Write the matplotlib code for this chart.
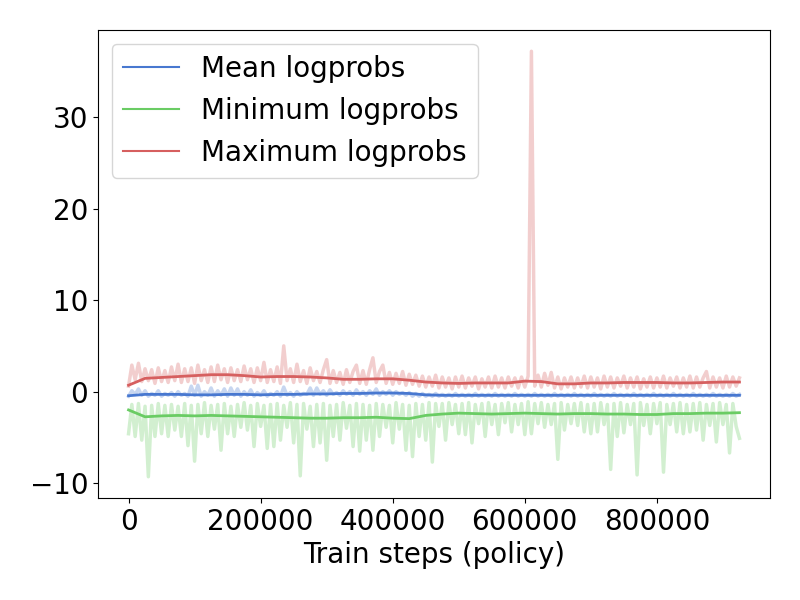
import numpy as np
import matplotlib
matplotlib.use('Agg')
from matplotlib import pyplot as plt
from matplotlib.lines import Line2D

# colours (seaborn "muted")
c_mean = '#4878d0'
c_min = '#6acc64'
c_max = '#d65f5f'

# raw logged values, one every 5000 train steps
raw_steps = np.arange(0, 930000, 5000)

max_raw = [0.6, 2.9, 1.3, 3.1, 1.1, 2.5, 1.2, 2.4, 0.9, 2.6,
           1.1, 2.3, 1.0, 2.7, 1.2, 3.0, 1.0, 2.5, 1.1, 2.6,
           0.9, 2.9, 1.2, 2.4, 1.0, 2.7, 1.1, 2.9, 1.3, 2.5,
           1.0, 2.6, 1.2, 2.4, 1.1, 2.8, 1.3, 2.5, 1.0, 2.6,
           1.2, 3.2, 1.0, 2.4, 1.1, 2.7, 0.9, 5.0, 1.2, 2.5,
           1.0, 3.0, 1.1, 2.3, 0.9, 2.6, 1.2, 2.2, 1.0, 2.4,
           3.5, 0.9, 2.3, 1.0, 2.1, 0.8, 2.4, 1.0, 2.2, 2.9,
           0.9, 2.3, 0.8, 2.4, 3.7, 1.0, 2.2, 2.9, 0.9, 2.1,
           0.8, 2.0, 0.9, 2.2, 0.7, 1.9, 0.8, 1.8, 0.6, 1.7,
           0.5, 1.6, 0.6, 1.8, 0.4, 1.6, 0.5, 1.5, 0.3, 1.6,
           0.5, 1.7, 0.4, 1.5, 0.6, 1.6, 0.3, 1.4, 0.5, 1.6,
           0.4, 1.7, 0.5, 1.5, 0.4, 1.6, 0.6, 1.5, 0.4, 1.6,
           0.5, 1.7, 37.2, 0.6, 1.8, 0.5, 2.0, 0.7, 2.1, 0.4,
           1.6, 0.3, 1.5, 0.5, 1.6, 0.4, 1.5, 0.5, 1.7, 0.4,
           1.6, 0.5, 1.5, 0.3, 1.7, 0.5, 1.6, 0.4, 1.5, 0.6,
           1.7, 0.4, 1.5, 0.5, 1.6, 0.3, 1.4, 0.5, 1.6, 0.4,
           1.5, 0.5, 1.7, 0.4, 1.5, 0.6, 1.6, 0.4, 1.5, 0.5,
           1.7, 0.4, 1.6, 0.5, 1.5, 2.2, 0.4, 1.6, 0.5, 1.5,
           0.4, 1.7, 0.5, 1.6, 0.6, 1.5]

mean_raw = [-0.5, 0.1, -0.3, 0.3, -0.4, 0.1, -0.5, -0.2, -0.4, 0.1,
            -0.5, -0.2, -0.4, -0.1, -0.5, 0.0, -0.4, -0.2, -0.5, 0.6,
            -0.4, 0.7, -0.5, 0.0, -0.4, 0.4, -0.5, 0.1, -0.4, 0.3,
            -0.5, 0.4, -0.4, 0.3, -0.5, 0.0, -0.4, 0.2, -0.5, -0.1,
            -0.4, 0.1, -0.5, -0.2, -0.4, 0.0, -0.5, 0.5, -0.4, -0.1,
            -0.5, 0.0, -0.4, -0.2, -0.3, 0.4, -0.4, 0.4, -0.3, 0.1,
            -0.4, 0.2, -0.3, -0.1, -0.4, 0.1, -0.3, 0.0, -0.4, 0.2,
            -0.3, 0.0, -0.4, 0.1, -0.3, 0.3, -0.4, 0.0, -0.3, 0.1,
            -0.4, 0.0, -0.3, -0.1, -0.4, -0.1, -0.5, -0.2, -0.5, -0.2,
            -0.5, -0.3, -0.5, -0.2, -0.5, -0.3, -0.5, -0.3, -0.5, -0.2,
            -0.5, -0.3, -0.5, -0.3, -0.5, -0.2, -0.5, -0.3, -0.5, -0.3,
            -0.5, -0.2, -0.5, -0.3, -0.5, -0.3, -0.5, -0.2, -0.5, -0.3,
            -0.5, -0.3, -0.5, -0.2, -0.5, -0.3, -0.5, -0.3, -0.5, -0.2,
            -0.5, -0.3, -0.5, -0.3, -0.5, -0.2, -0.5, -0.3, -0.5, -0.3,
            -0.5, -0.2, -0.5, -0.3, -0.5, -0.3, -0.5, -0.2, -0.5, -0.3,
            -0.5, -0.3, -0.5, -0.2, -0.5, -0.3, -0.5, -0.3, -0.5, -0.2,
            -0.5, -0.3, -0.5, -0.3, -0.5, -0.2, -0.5, -0.3, -0.5, -0.3,
            -0.5, -0.2, -0.5, -0.3, -0.5, -0.3, -0.5, -0.2, -0.5, -0.3,
            -0.5, -0.3, -0.5, -0.2, -0.5, -0.3]

min_raw = [-4.6, -1.4, -4.9, -1.3, -5.3, -1.6, -9.3, -1.5, -4.9, -1.3,
           -4.6, -1.5, -4.9, -1.4, -4.2, -1.6, -4.9, -1.3, -5.9, -1.5,
           -7.6, -1.4, -4.6, -1.2, -4.9, -1.5, -4.1, -1.4, -6.4, -1.3,
           -4.6, -1.6, -4.9, -1.4, -3.9, -1.2, -4.2, -1.5, -6.0, -1.3,
           -3.8, -1.5, -6.2, -1.4, -6.0, -1.3, -5.3, -1.5, -3.9, -1.2,
           -5.6, -1.4, -9.2, -1.3, -4.1, -1.6, -6.0, -1.4, -5.6, -1.3,
           -7.5, -1.5, -4.9, -1.4, -5.3, -1.2, -4.0, -1.5, -6.0, -1.3,
           -6.5, -1.4, -5.3, -1.5, -6.4, -1.3, -4.9, -1.4, -3.9, -1.5,
           -5.6, -1.2, -4.1, -1.4, -6.4, -1.5, -7.1, -1.3, -4.9, -1.4,
           -5.3, -1.2, -7.7, -1.3, -3.8, -1.3, -5.3, -1.2, -3.6, -1.4,
           -4.6, -1.3, -4.7, -1.2, -5.6, -1.4, -3.5, -1.3, -4.9, -1.2,
           -3.6, -1.4, -4.7, -1.3, -3.4, -1.2, -4.4, -1.4, -3.6, -1.3,
           -4.7, -1.1, -4.6, -1.3, -3.5, -1.2, -3.9, -1.4, -3.6, -1.3,
           -7.4, -1.2, -4.2, -1.4, -3.5, -1.3, -3.7, -1.2, -4.4, -1.4,
           -4.6, -1.3, -4.4, -1.2, -3.6, -1.4, -8.5, -1.3, -4.9, -1.2,
           -4.5, -1.4, -3.6, -1.3, -9.1, -1.2, -3.7, -1.4, -4.6, -1.3,
           -3.5, -1.2, -8.8, -1.4, -3.6, -1.3, -4.4, -1.2, -4.6, -1.4,
           -4.4, -1.3, -4.2, -1.2, -5.3, -1.4, -3.7, -1.3, -5.5, -1.2,
           -3.6, -1.4, -6.7, -1.3, -3.8, -5.1]

# smoothed curves, one every 25000 train steps
smooth_steps = np.arange(0, 950000, 25000)

max_smooth = [0.7, 1.45, 1.55, 1.65, 1.75, 1.85, 1.85, 1.75, 1.6, 1.65,
              1.65, 1.6, 1.5, 1.35, 1.35, 1.4, 1.4, 1.25, 1.05, 0.95,
              0.9, 0.95, 0.95, 0.95, 1.15, 1.1, 0.85, 0.85, 0.95, 0.95,
              1.0, 1.0, 1.0, 0.95, 0.95, 1.0, 1.05, 1.05]

mean_smooth = [-0.45, -0.3, -0.3, -0.3, -0.35, -0.35, -0.3, -0.3, -0.35, -0.3,
               -0.3, -0.25, -0.25, -0.2, -0.2, -0.15, -0.15, -0.2, -0.35, -0.4,
               -0.4, -0.4, -0.4, -0.4, -0.4, -0.4, -0.4, -0.4, -0.4, -0.4,
               -0.4, -0.4, -0.4, -0.4, -0.4, -0.4, -0.4, -0.4]

min_smooth = [-2.0, -2.75, -2.65, -2.6, -2.65, -2.6, -2.65, -2.7, -2.75, -2.8,
              -2.85, -2.9, -2.9, -2.85, -2.85, -2.8, -2.9, -2.95, -2.6, -2.45,
              -2.35, -2.4, -2.45, -2.4, -2.35, -2.4, -2.45, -2.4, -2.4, -2.45,
              -2.45, -2.5, -2.5, -2.4, -2.4, -2.35, -2.35, -2.3]

plt.rcParams['font.size'] = 20

fig, ax = plt.subplots(figsize=(8, 6), dpi=100)

# faint raw traces, drawn thick so they read as a band
ax.plot(raw_steps, mean_raw, color=c_mean, alpha=0.3, lw=2.5)
ax.plot(raw_steps, min_raw, color=c_min, alpha=0.3, lw=2.5)
ax.plot(raw_steps, max_raw, color=c_max, alpha=0.3, lw=2.5)

ax.plot(smooth_steps, mean_smooth, color=c_mean, lw=2)
ax.plot(smooth_steps, min_smooth, color=c_min, lw=2)
ax.plot(smooth_steps, max_smooth, color=c_max, lw=2)

handles = [Line2D([], [], color=c_mean, lw=1.5),
           Line2D([], [], color=c_min, lw=1.5),
           Line2D([], [], color=c_max, lw=1.5)]
ax.legend(handles, ['Mean logprobs', 'Minimum logprobs', 'Maximum logprobs'],
          loc='upper left')

ax.set_xlabel('Train steps (policy)')
ax.set_yticks([-10, 0, 10, 20, 30])

plt.subplots_adjust(left=0.1225, right=0.9625, top=0.95, bottom=0.17)
plt.savefig('out.png')
